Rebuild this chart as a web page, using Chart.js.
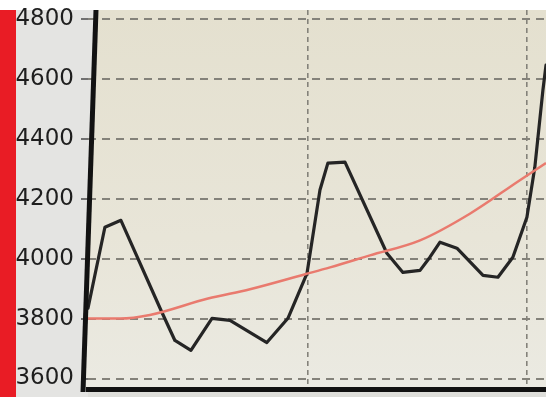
<!DOCTYPE html>
<html>
<head>
<meta charset="utf-8">
<script src="https://cdn.jsdelivr.net/npm/chart.js@4/dist/chart.umd.min.js"></script>
<style>
  html, body { margin: 0; padding: 0; background: #ffffff; }
  #wrap { position: relative; width: 546px; height: 397px; overflow: hidden; }
  #stripe { position: absolute; left: 0; top: 10px; width: 16px; height: 387px; background: #e91c25; }
</style>
</head>
<body>
<div id="wrap">
  <canvas id="c" width="546" height="397"></canvas>
  <div id="stripe"></div>
</div>
<script>
// Tick values and labels on the value axis
const yTicks = [3600, 3800, 4000, 4200, 4400, 4600, 4800];
const yTickLabels = ['3600', '3800', '4000', '4200', '4400', '4600', '4800'];
// Vertical grid positions along the horizontal axis
const xTicks = [0, 10, 20];

// Measured series (black)
const seriesX = [0, 0.77, 1.50, 3.33, 3.96, 4.69, 5.65, 6.47, 8.15, 9.11, 9.98, 10.57, 10.93, 11.71,
                 13.62, 14.35, 15.13, 15.58, 16.04, 16.81, 18.00, 18.68, 19.36, 20.00, 20.36, 20.73, 20.87];
const seriesY = [3835, 4105, 4128, 3827, 3727, 3694, 3801, 3794, 3720, 3801, 3951, 4229, 4319, 4322,
                 4018, 3954, 3961, 4005, 4055, 4035, 3944, 3938, 4005, 4138, 4305, 4563, 4646];

// Trend curve (red)
const trendX = [0, 1.46, 2.82, 5.47, 7.38, 9.89, 11.03, 12.85, 15.13, 17.40, 19.68, 20.87];
const trendY = [3800, 3800, 3812, 3867, 3898, 3948, 3971, 4011, 4061, 4150, 4262, 4319];

const toPoints = (xs, ys) => xs.map((x, i) => ({ x: x, y: ys[i] }));

const backdrop = {
  id: 'backdrop',
  beforeDraw(chart) {
    const { ctx, chartArea: a } = chart;
    ctx.save();
    // label column
    ctx.fillStyle = '#e4e4e2';
    ctx.fillRect(0, a.top, a.left + 10, chart.height - a.top);
    // below the bottom axis
    ctx.fillStyle = '#dededa';
    ctx.fillRect(a.left, a.bottom, a.right - a.left, chart.height - a.bottom);
    // plot panel, bounded on the left by the leaning axis
    const g = ctx.createLinearGradient(0, a.top, 0, a.bottom);
    g.addColorStop(0, '#e4e0cf');
    g.addColorStop(0.6, '#e8e5d8');
    g.addColorStop(1, '#ebeae2');
    ctx.fillStyle = g;
    ctx.beginPath();
    ctx.moveTo(a.left + 8, a.top);
    ctx.lineTo(a.right, a.top);
    ctx.lineTo(a.right, a.bottom);
    ctx.lineTo(a.left - 5, a.bottom);
    ctx.closePath();
    ctx.fill();
    ctx.restore();
  },
  afterDraw(chart) {
    // heavy left axis, leaning slightly
    const { ctx, chartArea: a } = chart;
    ctx.save();
    ctx.strokeStyle = '#121212';
    ctx.lineWidth = 5;
    ctx.lineCap = 'butt';
    ctx.beginPath();
    ctx.moveTo(a.left + 8, a.top);
    ctx.lineTo(a.left - 5, a.bottom + 3);
    ctx.stroke();
    ctx.restore();
  }
};

new Chart(document.getElementById('c'), {
  type: 'line',
  data: {
    datasets: [
      {
        data: toPoints(trendX, trendY),
        borderColor: '#e97a6e',
        borderWidth: 2.5,
        pointRadius: 0,
        tension: 0.4,
        cubicInterpolationMode: 'monotone',
        fill: false
      },
      {
        data: toPoints(seriesX, seriesY),
        borderColor: '#252525',
        borderWidth: 3.2,
        pointRadius: 0,
        tension: 0,
        borderJoinStyle: 'round',
        borderCapStyle: 'round',
        fill: false
      }
    ]
  },
  options: {
    responsive: false,
    animation: false,
    devicePixelRatio: 1,
    layout: { padding: { top: 10, right: 0, bottom: 0, left: 0 } },
    plugins: { legend: { display: false }, tooltip: { enabled: false } },
    scales: {
      x: {
        type: 'linear',
        min: 0,
        max: 20.87,
        afterBuildTicks: s => { s.ticks = xTicks.map(v => ({ value: v })); },
        afterFit: s => { s.height = 8; s.paddingLeft = 0; s.paddingRight = 0; },
        ticks: { display: false },
        grid: {
          color: c => (c.index === 0 ? 'rgba(0,0,0,0)' : '#84827a'),
          lineWidth: 1.6,
          drawTicks: false
        },
        border: { display: true, color: '#111111', width: 5, dash: [5, 4] }
      },
      y: {
        type: 'linear',
        min: 3565,
        max: 4830,
        afterBuildTicks: s => { s.ticks = yTicks.map(v => ({ value: v })); },
        afterFit: s => { s.width = 88; s.paddingTop = 0; s.paddingBottom = 0; },
        ticks: {
          color: '#1e1e1e',
          font: { family: 'DejaVu Sans', size: 23 },
          padding: 7,
          callback: v => yTickLabels[yTicks.indexOf(v)]
        },
        grid: { color: '#84827a', lineWidth: 2, tickLength: 7, tickColor: '#707070' },
        border: { display: false, dash: [8, 6] }
      }
    }
  },
  plugins: [backdrop]
});
</script>
</body>
</html>
